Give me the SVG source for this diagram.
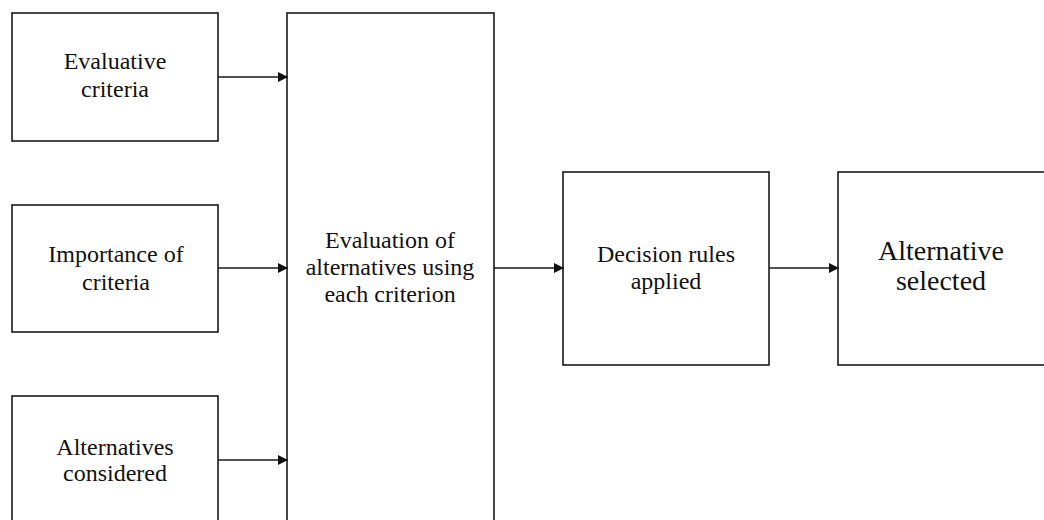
<svg xmlns="http://www.w3.org/2000/svg" width="1044" height="520" viewBox="0 0 1044 520">
  <style>
    .box { fill: #ffffff; stroke: #1a1a1a; stroke-width: 1.6; }
    .lbl { font-family: "Liberation Serif", "Times New Roman", serif; font-size: 24px; fill: #111111; text-anchor: middle; }
    .big { font-size: 28px; }
    .conn { stroke: #1a1a1a; stroke-width: 1.6; fill: none; marker-end: url(#arrow); }
  </style>
  <defs>
    <marker id="arrow" viewBox="0 0 10 10" refX="10" refY="5" markerWidth="11" markerHeight="10" markerUnits="userSpaceOnUse" orient="auto">
      <path d="M0,0 L10,5 L0,10 Z" fill="#111111"/>
    </marker>
  </defs>
  <rect width="1044" height="520" fill="#ffffff"/>

  <g id="evaluative-criteria">
    <rect class="box" x="12" y="13" width="206" height="128"/>
    <text class="lbl" x="115" y="69">Evaluative</text>
    <text class="lbl" x="115" y="97">criteria</text>
  </g>

  <g id="importance-of-criteria">
    <rect class="box" x="12" y="205" width="206" height="127"/>
    <text class="lbl" x="116" y="262">Importance of</text>
    <text class="lbl" x="116" y="290">criteria</text>
  </g>

  <g id="alternatives-considered">
    <rect class="box" x="12" y="396" width="206" height="140"/>
    <text class="lbl" x="115" y="455">Alternatives</text>
    <text class="lbl" x="115" y="481">considered</text>
  </g>

  <g id="evaluation-of-alternatives">
    <rect class="box" x="287" y="13" width="207" height="523"/>
    <text class="lbl" x="390" y="248">Evaluation of</text>
    <text class="lbl" x="390" y="275">alternatives using</text>
    <text class="lbl" x="390" y="302">each criterion</text>
  </g>

  <g id="decision-rules-applied">
    <rect class="box" x="563" y="172" width="206" height="193"/>
    <text class="lbl" x="666" y="262">Decision rules</text>
    <text class="lbl" x="666" y="289">applied</text>
  </g>

  <g id="alternative-selected">
    <rect class="box" x="838" y="172" width="215" height="193"/>
    <text class="lbl big" x="941" y="260">Alternative</text>
    <text class="lbl big" x="941" y="290">selected</text>
  </g>

  <g id="connectors">
    <line class="conn" x1="218" y1="77" x2="288" y2="77"/>
    <line class="conn" x1="218" y1="268" x2="288" y2="268"/>
    <line class="conn" x1="218" y1="460" x2="288" y2="460"/>
    <line class="conn" x1="494" y1="268" x2="564" y2="268"/>
    <line class="conn" x1="769" y1="268" x2="839" y2="268"/>
  </g>
</svg>
